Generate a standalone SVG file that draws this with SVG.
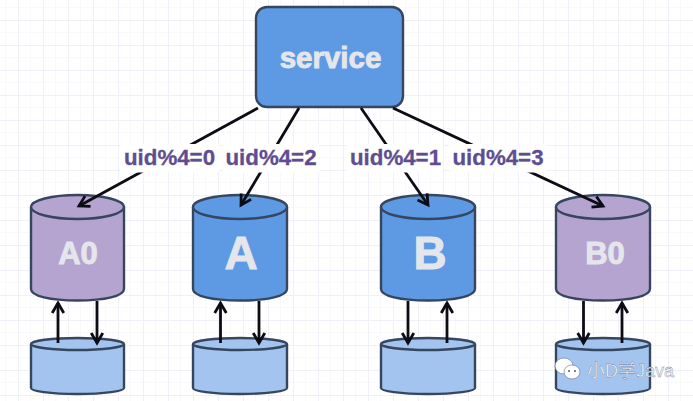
<svg xmlns="http://www.w3.org/2000/svg" width="693" height="401" viewBox="0 0 693 401">
<style>
.n{stroke:#36465f;stroke-width:2.4}
.purple{fill:#b5a4cf}
.blue{fill:#5e9ae3}
.light{fill:#a3c4ef}
.c{fill:none;stroke:#0c0c14;stroke-width:2.8}
.t{font-family:"Liberation Sans",Arial,sans-serif;font-weight:700;fill:#e4e6ec;stroke:#e4e6ec;stroke-width:.9;text-anchor:middle}
.l{font-family:"Liberation Sans",Arial,sans-serif;font-weight:700;font-size:22.300px;fill:#5f4d92;stroke:#5f4d92;stroke-width:.3;text-anchor:middle}
.w{font-family:"Liberation Sans","Noto Sans CJK SC",sans-serif;font-size:18px;fill:#f6f8fb;stroke:#66768e;stroke-width:.35}
</style>
<defs>
<pattern id="grid" x="18" y="20" width="25" height="25" patternUnits="userSpaceOnUse">
<path d="M12.500 0V25M0 12.500H25" fill="none" stroke="#f9f9fc" stroke-width="1"/>
<path d="M.5 0V25M0 .5H25" fill="none" stroke="#f0f0f8" stroke-width="1"/>
</pattern>
<marker id="a" markerUnits="userSpaceOnUse" markerWidth="18" markerHeight="18" refX="12" refY="9" orient="auto">
<path d="M2 3.200L12 9L2 14.800" fill="none" stroke="#0c0c14" stroke-width="2.800"/>
</marker>
</defs>
<rect width="693" height="401" fill="#fff"/>
<rect width="693" height="401" fill="url(#grid)"/>
<g id="service">
<rect class="n blue" x="256" y="7" width="147" height="100" rx="11"/>
<text class="t" x="330.500" y="68" font-size="29.500">service</text>
</g>
<g id="A0">
<path class="n purple" d="M31 207V289C31 296 50 300.500 77.500 300.500S124 296 124 289V207"/>
<ellipse class="n purple" cx="77.500" cy="207" rx="46.500" ry="12"/>
<text class="t" x="78" y="264" font-size="31">A0</text>
</g>
<g id="A">
<path class="n blue" d="M193 207V289C193 296 212 300.500 240 300.500S287 296 287 289V207"/>
<ellipse class="n blue" cx="240" cy="207" rx="47" ry="12"/>
<text class="t" x="241" y="269" font-size="46">A</text>
</g>
<g id="B">
<path class="n blue" d="M381 207V289C381 296 400 300.500 428 300.500S475 296 475 289V207"/>
<ellipse class="n blue" cx="428" cy="207" rx="47" ry="12"/>
<text class="t" x="430" y="269" font-size="46">B</text>
</g>
<g id="B0">
<path class="n purple" d="M556 207V289C556 296 575 300.500 603 300.500S650 296 650 289V207"/>
<ellipse class="n purple" cx="603" cy="207" rx="47" ry="12"/>
<text class="t" x="605" y="264" font-size="31">B0</text>
</g>
<g id="A0-replica">
<path class="n light" d="M31 344V388C31 391 50 394 77.500 394S124 391 124 388V344"/>
<ellipse class="n light" cx="77.500" cy="344" rx="46.500" ry="6"/>
</g>
<g id="A-replica">
<path class="n light" d="M193 344V388C193 391 212 394 240 394S287 391 287 388V344"/>
<ellipse class="n light" cx="240" cy="344" rx="47" ry="6"/>
</g>
<g id="B-replica">
<path class="n light" d="M381 344V388C381 391 400 394 428 394S475 391 475 388V344"/>
<ellipse class="n light" cx="428" cy="344" rx="47" ry="6"/>
</g>
<g id="B0-replica">
<path class="n light" d="M556 344V388C556 391 575 394 603 394S650 391 650 388V344"/>
<ellipse class="n light" cx="603" cy="344" rx="47" ry="6"/>
</g>
<g id="connectors">
<path class="c" marker-end="url(#a)" d="M258 108L79 206"/>
<path class="c" marker-end="url(#a)" d="M299 108L241 205"/>
<path class="c" marker-end="url(#a)" d="M361 108L428 205"/>
<path class="c" marker-end="url(#a)" d="M393 108L603 206"/>
<path class="c" marker-end="url(#a)" d="M58 343V303"/>
<path class="c" marker-end="url(#a)" d="M97 301V343"/>
<path class="c" marker-end="url(#a)" d="M220.500 343V303"/>
<path class="c" marker-end="url(#a)" d="M259 301V343"/>
<path class="c" marker-end="url(#a)" d="M408 301V343"/>
<path class="c" marker-end="url(#a)" d="M447 343V303"/>
<path class="c" marker-end="url(#a)" d="M583.500 301V343"/>
<path class="c" marker-end="url(#a)" d="M622 343V303"/>
</g>
<g id="labels">
<rect x="120" y="144" width="99" height="28.500" fill="#fff"/>
<rect x="223" y="144" width="96" height="28.500" fill="#fff"/>
<rect x="347" y="144" width="96" height="28.500" fill="#fff"/>
<rect x="450" y="144" width="96" height="28.500" fill="#fff"/>
<text class="l" x="169.500" y="165">uid%4=0</text>
<text class="l" x="271" y="165">uid%4=2</text>
<text class="l" x="395.500" y="165">uid%4=1</text>
<text class="l" x="498" y="165">uid%4=3</text>
</g>
<g id="watermark">
<ellipse cx="564" cy="366" rx="9" ry="8" fill="#fff" stroke="#5a6f92" stroke-width=".6"/>
<ellipse cx="572" cy="372" rx="8" ry="7" fill="#fff" stroke="#5a6f92" stroke-width=".6"/>
<circle cx="569" cy="371" r="1" fill="#4a5a78"/>
<circle cx="575" cy="371" r="1" fill="#4a5a78"/>
<text class="w" x="587" y="377">小D学Java</text>
</g>
</svg>
